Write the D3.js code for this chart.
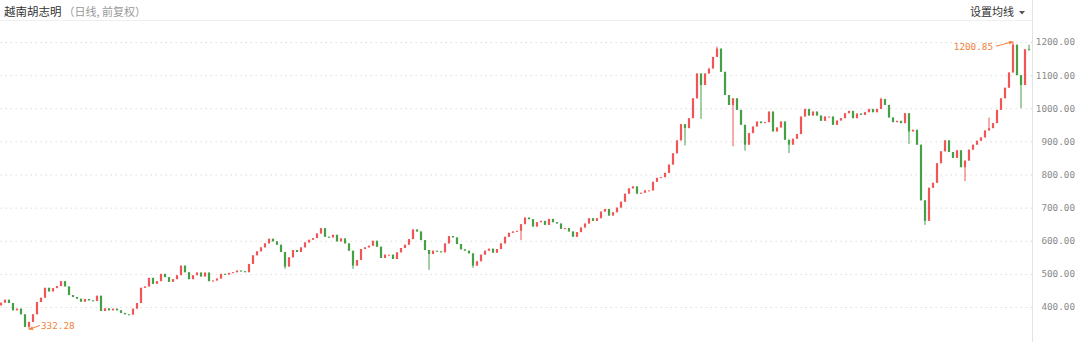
<!DOCTYPE html>
<html>
<head>
<meta charset="utf-8">
<script src="https://cdn.jsdelivr.net/npm/d3@7"></script>
<style>
  body { margin: 0; background: #fff; }
  svg { display: block; }
</style>
</head>
<body>
<svg id="chart" width="1080" height="342"></svg>
<script>
const svg = d3.select('#chart')
const svgWidth = +svg.attr('width')
const svgHeight = +svg.attr('height')
const plotRight = 1032

const upColor = '#f05656'
const downColor = '#45a045'
const markColor = '#f0823a'
const gridColor = '#dcdcdc'
const labelColor = '#8a8a8a'

// daily closes (sampled), open = previous close
const firstOpen = 405
const closes = [
  413,422,412,390,395,378,340,355,378,415,
  428,458,447,457,463,478,462,436,430,425,
  416,424,420,418,434,388,396,390,395,390,
  382,378,377,395,412,458,462,488,470,478,
  500,490,476,484,496,525,505,484,496,504,
  492,504,478,480,486,500,498,503,505,510,
  508,505,530,556,568,580,592,606,598,588,
  566,522,550,572,566,580,595,603,608,622,
  638,612,610,618,598,607,592,570,525,542,
  575,580,585,600,582,548,558,558,545,565,
  578,588,605,634,628,602,572,560,570,568,
  565,592,614,610,590,574,570,562,525,538,
  558,570,576,564,575,592,612,624,628,630,
  650,670,665,643,656,660,648,666,656,652,
  636,638,628,612,626,640,652,668,660,668,
  688,696,676,686,700,718,742,758,764,742,
  745,752,752,778,790,792,805,830,864,903,
  952,940,970,1030,1105,1070,1105,1120,1155,1180,
  1110,1040,1010,1030,995,950,890,925,945,960,
  955,958,990,930,942,960,905,890,908,922,
  975,998,978,990,978,962,975,975,950,963,
  970,985,992,970,984,980,988,998,988,998,
  1028,1010,972,958,962,955,985,930,935,890,
  722,660,760,775,834,870,903,868,850,873,
  822,842,875,890,902,912,933,940,955,995,
  1030,1062,1108,1192,1100,1070,1178,1175
]

// long shadows visible on the picture: [candle index, price]
const wickLows = [[7,332.28],[71,515],[88,515],[107,512],[118,518],[130,602],
  [171,888],[175,968],[183,885],[186,872],[197,865],[227,892],[231,648],[241,780],[255,1000]]
const wickHighs = [[179,1186],[220,1032],[247,972],[253,1200.85],[257,1192]]

const yTicks = [400, 500, 600, 700, 800, 900, 1000, 1100, 1200]

// marked extremes: [candle index, price, label]
const lowMark = [7, 332.28, '332.28']
const highMark = [253, 1200.85, '1200.85']

const candles = closes.map((c, i) => {
  const o = i === 0 ? firstOpen : closes[i - 1]
  return { i: i, open: o, close: c, high: Math.max(o, c), low: Math.min(o, c) }
})
wickLows.forEach(([i, v]) => { candles[i].low = v })
wickHighs.forEach(([i, v]) => { candles[i].high = v })

const xScale = d3.scaleLinear()
  .domain([0, closes.length - 1])
  .range([1, 1029])

const yScale = d3.scaleLinear()
  .domain([400, 1200])
  .range([307, 42])

// header line + right separator
svg.append('line')
  .attr('x1', 0).attr('x2', plotRight)
  .attr('y1', 20.5).attr('y2', 20.5)
  .attr('stroke', '#efefef')

svg.append('line')
  .attr('x1', plotRight + 0.5).attr('x2', plotRight + 0.5)
  .attr('y1', 0).attr('y2', svgHeight)
  .attr('stroke', '#e3e3e3')

// y axis with dotted grid
const yAxisGroup = svg.append('g')
  .attr('transform', `translate(${plotRight}, 0)`)
  .call(d3.axisRight(yScale)
    .tickValues(yTicks)
    .tickSize(-plotRight)
    .tickPadding(0)
    .tickFormat(d3.format('.2f')))

yAxisGroup.select('path.domain').remove()
yAxisGroup.selectAll('.tick line')
  .attr('stroke', gridColor)
  .attr('stroke-dasharray', '1.5,3.5')
yAxisGroup.selectAll('.tick text')
  .attr('x', 43)
  .attr('text-anchor', 'end')
  .attr('fill', labelColor)
  .style('font-family', '"DejaVu Sans Mono", "Liberation Mono", monospace')
  .style('font-size', '9.3px')

// candles
const bodyW = 2.2
const candleGroup = svg.append('g')

candleGroup.selectAll('line.wick')
  .data(candles)
  .enter()
  .append('line')
  .attr('class', 'wick')
  .attr('x1', d => xScale(d.i)).attr('x2', d => xScale(d.i))
  .attr('y1', d => yScale(d.high)).attr('y2', d => yScale(d.low))
  .attr('stroke', d => d.close >= d.open ? upColor : downColor)
  .attr('stroke-width', 1)

candleGroup.selectAll('rect.body')
  .data(candles)
  .enter()
  .append('rect')
  .attr('class', 'body')
  .attr('x', d => xScale(d.i) - bodyW / 2)
  .attr('width', bodyW)
  .attr('y', d => yScale(Math.max(d.open, d.close)))
  .attr('height', d => Math.max(1, Math.abs(yScale(d.open) - yScale(d.close))))
  .attr('fill', d => d.close >= d.open ? upColor : downColor)

// arrows for the extremes
svg.append('defs')
  .append('marker')
  .attr('id', 'arrow')
  .attr('viewBox', '0 -5 10 10')
  .attr('refX', 10)
  .attr('refY', 0)
  .attr('markerWidth', 5)
  .attr('markerHeight', 4)
  .attr('orient', 'auto')
  .append('path')
  .attr('d', 'M0,-5L10,0L0,5Z')
  .style('fill', markColor)

const monoFont = '"DejaVu Sans Mono", "Liberation Mono", monospace'

const lx = xScale(lowMark[0]), ly = yScale(lowMark[1])
svg.append('line')
  .attr('x1', lx + 11).attr('y1', ly - 4)
  .attr('x2', lx).attr('y2', ly)
  .attr('stroke', markColor)
  .attr('marker-end', 'url(#arrow)')
svg.append('text')
  .attr('x', lx + 12).attr('y', ly - 2.5)
  .attr('dominant-baseline', 'middle')
  .attr('fill', markColor)
  .style('font-family', monoFont)
  .style('font-size', '9.3px')
  .text(lowMark[2])

const hx = xScale(highMark[0]), hy = yScale(highMark[1])
svg.append('line')
  .attr('x1', hx - 17).attr('y1', hy + 4.5)
  .attr('x2', hx).attr('y2', hy)
  .attr('stroke', markColor)
  .attr('marker-end', 'url(#arrow)')
svg.append('text')
  .attr('x', hx - 20).attr('y', hy + 6)
  .attr('text-anchor', 'end')
  .attr('dominant-baseline', 'middle')
  .attr('fill', markColor)
  .style('font-family', monoFont)
  .style('font-size', '9.3px')
  .text(highMark[2])

// title and menu
const cjk = '"Noto Sans CJK SC", "Noto Sans", sans-serif'
const title = svg.append('text')
  .attr('x', 4).attr('y', 16)
  .style('font-family', cjk)
  .style('font-size', '11.5px')
title.append('tspan').attr('fill', '#333').text('越南胡志明')
title.append('tspan').attr('fill', '#999').attr('dx', 2).style('font-size', '11px').text('（日线, 前复权）')

svg.append('text')
  .attr('x', 1014).attr('y', 16)
  .attr('text-anchor', 'end')
  .attr('fill', '#333')
  .style('font-family', cjk)
  .style('font-size', '11px')
  .text('设置均线')

svg.append('path')
  .attr('d', 'M1019,11 L1025,11 L1022,14.5 Z')
  .attr('fill', '#555')
</script>
</body>
</html>
